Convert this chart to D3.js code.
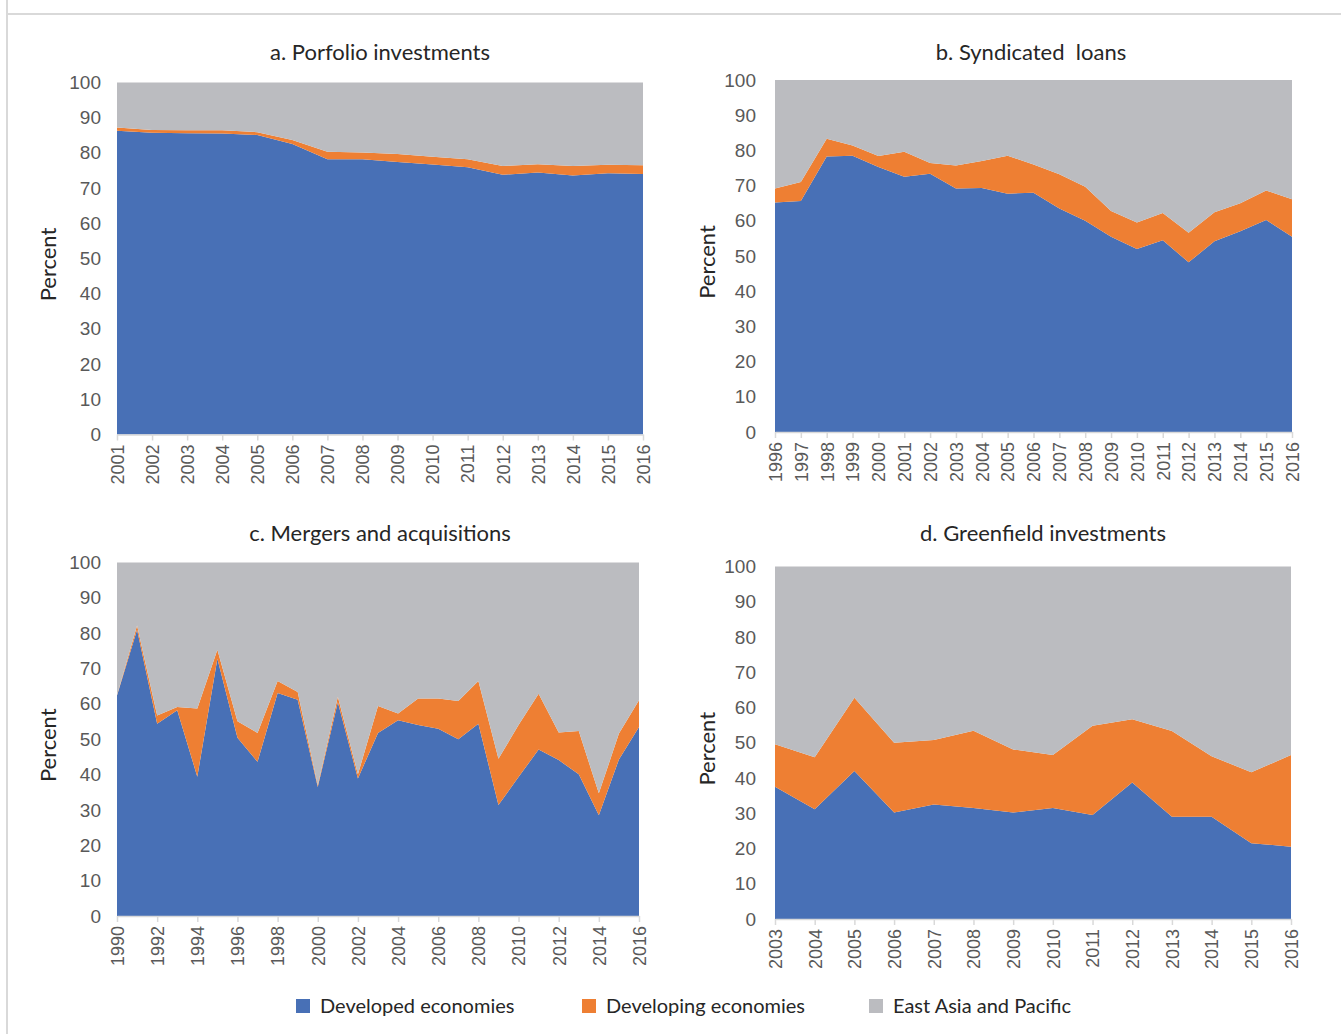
<!DOCTYPE html>
<html>
<head>
<meta charset="utf-8">
<script src="https://cdn.jsdelivr.net/npm/d3@7"></script>
<style>
  body { margin: 0; background: #fff; }
  svg { display: block; font-family: Lato, 'Open Sans', sans-serif; }
</style>
</head>
<body>
<svg id="chart" width="1341" height="1034"></svg>
<script>
// series names & colours
const seriesNames = ['Developed economies', 'Developing economies', 'East Asia and Pacific'];
const seriesColors = ['#4870b6', '#ee7f33', '#bbbcc0'];
const yTicks = [0, 10, 20, 30, 40, 50, 60, 70, 80, 90, 100];

// a. portfolio investments
const yearsA = d3.range(2001, 2017);
const developedA = [86.3, 85.7, 85.6, 85.5, 85.1, 82.5, 78.2, 78.2, 77.4, 76.7, 75.9, 73.8, 74.4, 73.6, 74.2, 74.0];
const developingA = [0.9, 0.8, 0.8, 0.9, 0.8, 1.2, 2.1, 1.9, 2.3, 2.2, 2.3, 2.5, 2.4, 2.7, 2.4, 2.5];
const eapA = [12.8, 13.5, 13.6, 13.6, 14.1, 16.3, 19.7, 19.9, 20.3, 21.1, 21.8, 23.7, 23.2, 23.7, 23.4, 23.5];

// b. syndicated loans
const yearsB = d3.range(1996, 2017);
const developedB = [65.2, 65.6, 78.3, 78.5, 75.3, 72.5, 73.4, 69.2, 69.3, 67.7, 68.0, 63.5, 60.0, 55.5, 52.0, 54.5, 48.2, 54.2, 57.0, 60.2, 55.5];
const developingB = [4.0, 5.4, 5.0, 2.9, 3.1, 7.1, 3.0, 6.5, 7.7, 10.8, 8.0, 9.7, 9.7, 7.3, 7.5, 7.7, 8.4, 8.2, 8.0, 8.4, 10.6];
const eapB = [30.8, 29.0, 16.7, 18.6, 21.6, 20.4, 23.6, 24.3, 23.0, 21.5, 24.0, 26.8, 30.3, 37.2, 40.5, 37.8, 43.4, 37.6, 35.0, 31.4, 33.9];

// c. mergers and acquisitions
const yearsC = d3.range(1990, 2017);
const developedC = [62.4, 81.0, 54.4, 58.2, 39.4, 72.8, 50.4, 43.6, 63.1, 61.2, 36.5, 60.5, 38.9, 51.8, 55.4, 54.0, 53.0, 50.0, 54.4, 31.4, 39.3, 47.1, 44.1, 40.1, 28.5, 44.3, 53.5];
const developingC = [0.1, 1.2, 2.3, 0.9, 19.3, 2.5, 4.7, 8.2, 3.4, 2.2, 0.5, 1.5, 1.2, 7.6, 1.9, 7.5, 8.5, 10.8, 12.1, 13.1, 14.7, 15.8, 7.8, 12.2, 6.2, 7.3, 7.5];
const eapC = [37.5, 17.8, 43.3, 40.9, 41.3, 24.7, 44.9, 48.2, 33.5, 36.6, 63.0, 38.0, 59.9, 40.6, 42.7, 38.5, 38.5, 39.2, 33.5, 55.5, 46.0, 37.1, 48.1, 47.7, 65.3, 48.4, 39.0];
const tickYearsC = d3.range(1990, 2017, 2);

// d. greenfield investments
const yearsD = d3.range(2003, 2017);
const developedD = [37.5, 31.1, 42.0, 30.2, 32.5, 31.5, 30.2, 31.5, 29.5, 38.7, 29.0, 29.0, 21.5, 20.5];
const developingD = [12.1, 14.8, 20.8, 19.8, 18.3, 21.9, 17.9, 15.0, 25.3, 18.0, 24.3, 17.2, 20.1, 26.0];
const eapD = [50.4, 54.1, 37.2, 50.0, 49.2, 46.6, 51.9, 53.5, 45.2, 43.3, 46.7, 53.8, 58.4, 53.5];

const panels = [
  { title: 'a. Porfolio investments', years: yearsA, ticks: yearsA, values: [developedA, developingA, eapA], left: 117, right: 643, top: 82.5, bottom: 434.5, titleX: 380, titleY: 52, labelX: 48 },
  { title: 'b. Syndicated  loans', years: yearsB, ticks: yearsB, values: [developedB, developingB, eapB], left: 775, right: 1292, top: 80, bottom: 432, titleX: 1031, titleY: 52, labelX: 707 },
  { title: 'c. Mergers and acquisitions', years: yearsC, ticks: tickYearsC, values: [developedC, developingC, eapC], left: 117, right: 639, top: 562.5, bottom: 916, titleX: 380, titleY: 533, labelX: 48 },
  { title: 'd. Greenfield investments', years: yearsD, ticks: yearsD, values: [developedD, developingD, eapD], left: 775, right: 1291, top: 566.5, bottom: 919, titleX: 1043, titleY: 533, labelX: 707 }
];

const svg = d3.select('#chart');

// frame lines left over from the page
svg.append('line')
  .attr('x1', 7).attr('x2', 1341).attr('y1', 14).attr('y2', 14)
  .attr('stroke', '#d9d9d9').attr('stroke-width', 2);
svg.append('line')
  .attr('x1', 7).attr('x2', 7).attr('y1', 0).attr('y2', 1034)
  .attr('stroke', '#d9d9d9').attr('stroke-width', 2);

panels.forEach(p => {
  const rows = p.years.map((yr, i) => ({ year: yr, s0: p.values[0][i], s1: p.values[1][i], s2: p.values[2][i] }));
  const stacked = d3.stack().keys(['s0', 's1', 's2'])(rows);

  const x = d3.scaleLinear()
    .domain(d3.extent(p.years))
    .range([p.left, p.right]);

  const y = d3.scaleLinear()
    .domain([0, 100])
    .range([p.bottom, p.top]);

  const area = d3.area()
    .x(d => x(d.data.year))
    .y0(d => y(d[0]))
    .y1(d => y(Math.min(100, d[1])));

  svg.append('g')
    .selectAll('path')
    .data(stacked)
    .enter()
    .append('path')
    .attr('d', area)
    .attr('fill', (d, i) => seriesColors[i]);

  // y axis
  const yAxisGroup = svg.append('g')
    .attr('transform', `translate(${p.left}, 0)`)
    .call(d3.axisLeft(y).tickValues(yTicks).tickSize(0).tickPadding(p.left > 700 ? 19 : 16));
  yAxisGroup.select('.domain').remove();
  yAxisGroup.selectAll('text')
    .attr('fill', '#595959')
    .style('font-size', '19px');

  // x axis
  const xAxisGroup = svg.append('g')
    .attr('transform', `translate(0, ${p.bottom})`)
    .call(d3.axisBottom(x).tickValues(p.ticks).tickFormat(d3.format('d')).tickSize(6).tickSizeOuter(0));
  xAxisGroup.select('.domain').attr('stroke', '#d9d9d9').attr('stroke-width', 1.5);
  xAxisGroup.selectAll('line').attr('stroke', '#d9d9d9').attr('stroke-width', 1.5);
  xAxisGroup.selectAll('text')
    .attr('fill', '#595959')
    .style('font-size', '18px')
    .attr('transform', 'rotate(-90)')
    .attr('text-anchor', 'end')
    .attr('x', -10)
    .attr('y', 0)
    .attr('dy', '0.35em');

  // panel title
  svg.append('text')
    .attr('x', p.titleX)
    .attr('y', p.titleY)
    .attr('dy', '0.35em')
    .attr('text-anchor', 'middle')
    .attr('fill', '#262626')
    .style('font-size', '22px')
    .style('white-space', 'pre')
    .text(p.title);

  // y title
  svg.append('text')
    .attr('transform', `translate(${p.labelX}, ${(p.top + p.bottom) / 2 + 6}) rotate(-90)`)
    .attr('dy', '0.35em')
    .attr('text-anchor', 'middle')
    .attr('fill', '#262626')
    .style('font-size', '22px')
    .text('Percent');
});

// legend
const legendX = [296, 582, 869];
const legend = svg.append('g');
seriesNames.forEach((name, i) => {
  legend.append('rect')
    .attr('x', legendX[i]).attr('y', 999)
    .attr('width', 14).attr('height', 14)
    .attr('fill', seriesColors[i]);
  legend.append('text')
    .attr('x', legendX[i] + 24).attr('y', 1006)
    .attr('dy', '0.35em')
    .attr('fill', '#262626')
    .style('font-size', '20px')
    .text(name);
});
</script>
</body>
</html>
